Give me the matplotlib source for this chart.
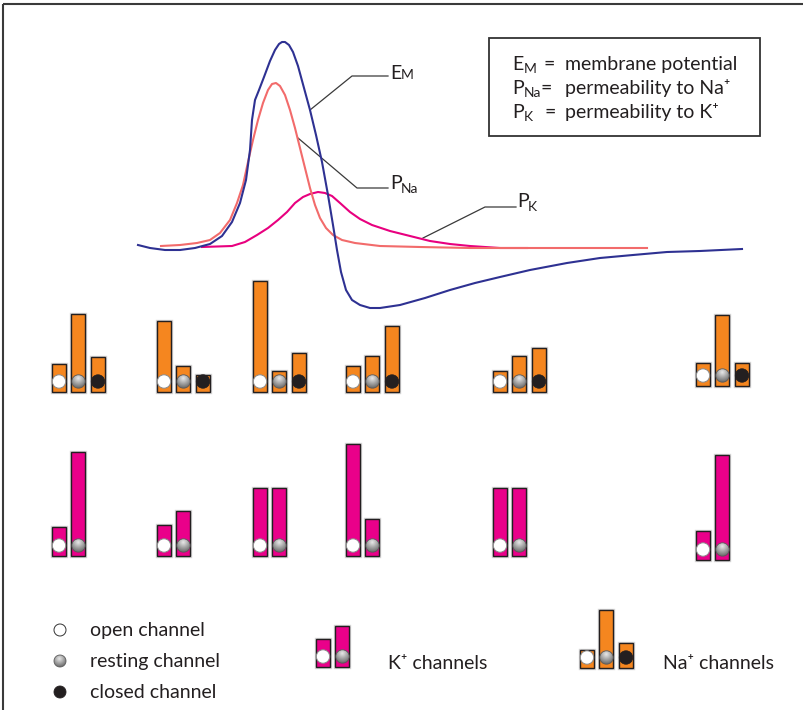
import numpy as np
import matplotlib
matplotlib.use("Agg")
import matplotlib.pyplot as plt
from matplotlib.patches import Circle, Rectangle
import matplotlib.patheffects as pe

plt.rcParams['font.family'] = ['Lato', 'DejaVu Sans']

# ---------------- data (pixel units) ----------------
em_x = [138, 150, 165, 180, 195, 210, 222, 232, 240, 246, 250, 252, 255, 259, 264, 270, 275,
        279, 282, 285, 289, 293, 298, 304, 310, 316, 322, 328, 333, 337, 341, 346, 352, 360,
        370, 380, 400, 425, 450, 475, 500, 530, 567, 600, 633, 667, 700, 742]
em_y = [245, 248, 250, 250, 248, 244, 236, 222, 203, 180, 150, 120, 100, 90, 77, 61, 50,
        44, 42, 42, 45, 52, 66, 88, 110, 135, 162, 195, 225, 250, 272, 290, 300, 305,
        308, 308, 305, 298, 290, 283, 277, 270, 263, 258, 255, 252, 251, 249]

pna_x = [161, 180, 197, 210, 220, 230, 237, 243, 248, 253, 258, 263, 268, 272, 276, 280, 285,
         290, 295, 300, 305, 310, 315, 320, 326, 333, 342, 355, 380, 420, 470, 550, 647]
pna_y = [246, 245, 243, 240, 233, 220, 203, 185, 162, 140, 120, 103, 90, 84, 83, 86, 95,
         110, 128, 148, 168, 188, 205, 218, 228, 235, 240, 243, 246, 247, 248, 248, 248]

pk_x = [202, 232, 245, 257, 268, 278, 287, 295, 303, 310, 318, 325, 332, 340, 350, 360, 372,
        390, 410, 430, 450, 470, 500, 527]
pk_y = [247, 246, 242, 235, 228, 220, 212, 203, 197, 194, 192, 193, 196, 203, 212, 219, 225,
        231, 236, 241, 244, 246, 248, 248]

na_heights = [[28, 78, 35], [71, 26, 17], [111, 21, 39], [26, 36, 66], [21, 36, 44], [23, 71, 23]]
k_heights = [[29, 104], [31, 45], [68, 68], [112, 37], [68, 68], [29, 105]]
na_states = ['open', 'resting', 'closed']
k_states = ['open', 'resting']

legend_k_heights = [28, 41]
legend_na_heights = [18, 58, 25]

state_labels = ['open channel', 'resting channel', 'closed channel']
box_mains = ['E', 'P', 'P']
box_subs = ['M', 'Na', 'K']
box_texts = ['membrane potential', 'permeability to Na⁺', 'permeability to K⁺']

# ---------------- layout ----------------
W, H = 804, 710
fig = plt.figure(figsize=(W / 100, H / 100), dpi=100)
ax = fig.add_axes([0, 0, 1, 1])
ax.set_xlim(0, W)
ax.set_ylim(H, 0)
ax.axis('off')

ORANGE = '#F5861F'
MAGENTA = '#EA008A'
EDGE = '#231F20'
BLUE = '#2E3192'
SALMON = '#F26B6B'
PINK = '#E8007F'
TXT = '#231F20'

# frame (top and left only)
ax.plot([3, W], [4, 4], color='#3a3a3a', lw=1.5, solid_capstyle='butt')
ax.plot([3, 3], [4, H], color='#3a3a3a', lw=1.5, solid_capstyle='butt')

# curves
ax.plot(pk_x, pk_y, color=PINK, lw=1.5, zorder=3)
ax.plot(pna_x, pna_y, color=SALMON, lw=1.5, zorder=3)
ax.plot(em_x, em_y, color=BLUE, lw=1.5, zorder=4)

# leader lines
lc = '#3a3a3a'
ax.plot([310, 352, 388], [110, 76, 76], color=lc, lw=0.9)
ax.plot([298, 357, 388], [138, 188, 188], color=lc, lw=0.9)
ax.plot([423, 485, 516], [238, 207, 207], color=lc, lw=0.9)

FS = 14
SFS = 10
ax.text(390, 79, 'E', fontsize=FS, va='baseline', ha='left', color=TXT)
ax.text(401, 79, 'M', fontsize=SFS, va='baseline', ha='left', color=TXT)
ax.text(390, 189, 'P', fontsize=FS, va='baseline', ha='left', color=TXT)
ax.text(401, 193, 'Na', fontsize=SFS, va='baseline', ha='left', color=TXT)
ax.text(517, 207, 'P', fontsize=FS, va='baseline', ha='left', color=TXT)
ax.text(528, 211, 'K', fontsize=SFS, va='baseline', ha='left', color=TXT)

# legend box
ax.add_patch(Rectangle((489, 38), 271, 98, fill=False, ec='#333', lw=1.3))
eq_x = [544, 541, 545]
for i, (m, s, rest) in enumerate(zip(box_mains, box_subs, box_texts)):
    yb = 70 + 24 * i
    ax.text(512, yb, m, fontsize=FS, va='baseline', ha='left', color=TXT)
    ax.text(524, yb + 3, s, fontsize=SFS, va='baseline', ha='left', color=TXT)
    ax.text(eq_x[i], yb, '=', fontsize=FS, va='baseline', ha='left', color=TXT)
    ax.text(565, yb, rest, fontsize=FS, va='baseline', ha='left', color=TXT)

# ---------------- channel drawing helpers ----------------
yy, xx = np.mgrid[-1:1:64j, -1:1:64j]
grad = np.clip(1 - 0.6 * np.hypot(xx + 0.1, yy + 0.4), 0, 1)
halo = [pe.Stroke(linewidth=2.4, foreground='#d2d2d2'), pe.Normal()]


def draw_ball(cx, cy, r, state, edge='#8a8a8a'):
    if state == 'open':
        ax.add_patch(Circle((cx, cy), r, fc='white', ec=edge, lw=0.7, zorder=6))
    elif state == 'closed':
        ax.add_patch(Circle((cx, cy), r, fc=EDGE, ec=EDGE, lw=0.6, zorder=6))
    else:
        c = Circle((cx, cy), r, fc='none', ec='#5a5a5a', lw=0.6, zorder=7)
        ax.add_patch(c)
        im = ax.imshow(grad, cmap='gray', vmin=-0.55, vmax=1.15, origin='upper',
                       extent=(cx - r, cx + r, cy + r, cy - r), zorder=6,
                       interpolation='bilinear')
        im.set_clip_path(c)


def draw_group(x0, bottom, heights, states, color, pitch=19.5, width=14):
    xs = [x0 + pitch * i for i in range(len(heights))]
    bars = ax.bar(xs, [-h for h in heights], bottom=bottom, width=width, align='edge',
                  color=color, edgecolor=EDGE, linewidth=1.0, zorder=5)
    for b in bars:
        b.set_path_effects(halo)
    for x, st in zip(xs, states):
        draw_ball(x + width / 2, bottom - 10.5, 6.7, st)


group_x = [52, 157, 253, 346, 493, 696]
na_bottom = [392, 392, 392, 392, 392, 386]
k_bottom = [556, 556, 556, 556, 556, 560]
for gx, b, h in zip(group_x, na_bottom, na_heights):
    draw_group(gx, b, h, na_states, ORANGE)
for gx, b, h in zip(group_x, k_bottom, k_heights):
    draw_group(gx, b, h, k_states, MAGENTA)

# ---------------- bottom legend ----------------
for i, (lab, st) in enumerate(zip(state_labels, na_states)):
    y = 630 + 31 * i
    draw_ball(60, y, 6, st, edge='#333333')
    ax.text(90, y + 6, lab, fontsize=FS, va='baseline', ha='left', color=TXT)

draw_group(316, 667, legend_k_heights, k_states, MAGENTA)
ax.text(388, 669, 'K⁺ channels', fontsize=FS, va='baseline', ha='left', color=TXT)
draw_group(580, 668, legend_na_heights, na_states, ORANGE)
ax.text(663, 669, 'Na⁺ channels', fontsize=FS, va='baseline', ha='left', color=TXT)

ax.set_xlim(0, W)
ax.set_ylim(H, 0)
ax.set_aspect('auto')
fig.savefig('out.png', dpi=100)
